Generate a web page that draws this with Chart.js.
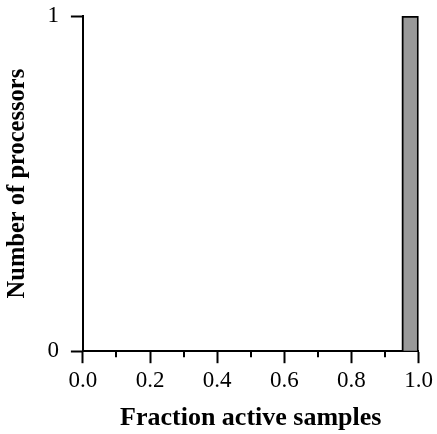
<!DOCTYPE html>
<html>
<head>
<meta charset="utf-8">
<script src="https://cdn.jsdelivr.net/npm/chart.js@4"></script>
<style>
  html, body { margin: 0; padding: 0; background: #fff; }
  #wrap { width: 437px; height: 434px; }
</style>
</head>
<body>
<div id="wrap"><canvas id="histChart"></canvas></div>
<script>
// histogram bins (centres) and counts
const binCenters = [0.025, 0.075, 0.125, 0.175, 0.225, 0.275, 0.325, 0.375, 0.425, 0.475,
                    0.525, 0.575, 0.625, 0.675, 0.725, 0.775, 0.825, 0.875, 0.925, 0.975];
const counts = [0, 0, 0, 0, 0, 0, 0, 0, 0, 0,
                0, 0, 0, 0, 0, 0, 0, 0, 0, 1];
const xTitle = "Fraction active samples";
const yTitle = "Number of processors";

const serif = "'Liberation Serif', 'Times New Roman', serif";

function isMajor(v) {
  return Math.round(v * 10) % 2 === 0;
}

// short minor ticks at the unlabelled x positions
const minorTicks = {
  id: "minorTicks",
  afterDraw(chart) {
    const sx = chart.scales.x;
    const ctx = chart.ctx;
    const y0 = chart.chartArea.bottom;
    ctx.save();
    ctx.strokeStyle = "#000";
    ctx.lineWidth = 2;
    sx.ticks.forEach(t => {
      if (!isMajor(t.value)) {
        const px = Math.round(sx.getPixelForValue(t.value));
        ctx.beginPath();
        ctx.moveTo(px, y0);
        ctx.lineTo(px, y0 + 6);
        ctx.stroke();
      }
    });
    ctx.restore();
  }
};

const ctx = document.getElementById("histChart").getContext("2d");
new Chart(ctx, {
  type: "bar",
  data: {
    datasets: [{
      data: binCenters.map((x, i) => ({ x: x, y: counts[i] })),
      backgroundColor: "#999999",
      borderColor: "#000000",
      borderWidth: 2,
      barPercentage: 1.0,
      categoryPercentage: 1.0
    }]
  },
  options: {
    responsive: true,
    maintainAspectRatio: false,
    animation: false,
    layout: { padding: { left: 0, right: 4, top: 0, bottom: 0 } },
    plugins: {
      legend: { display: false },
      tooltip: { enabled: false }
    },
    scales: {
      x: {
        type: "linear",
        min: 0,
        max: 1,
        offset: false,
        border: { color: "#000", width: 2 },
        grid: {
          offset: false,
          drawOnChartArea: false,
          tickLength: 12,
          tickWidth: 2,
          tickColor: c => (c.tick && !isMajor(c.tick.value) ? "rgba(0,0,0,0)" : "#000")
        },
        ticks: {
          stepSize: 0.1,
          autoSkip: false,
          maxRotation: 0,
          padding: 4,
          color: "#000",
          font: { family: serif, size: 23 },
          callback: v => (isMajor(v) ? v.toFixed(1) : "")
        },
        title: {
          display: true,
          text: xTitle,
          color: "#000",
          font: { family: serif, size: 26, weight: "bold" },
          padding: { top: 4, bottom: 0 }
        }
      },
      y: {
        min: 0,
        max: 1,
        border: { color: "#000", width: 2 },
        grid: {
          offset: false,
          drawOnChartArea: false,
          tickLength: 12,
          tickWidth: 2,
          tickColor: "#000"
        },
        ticks: {
          stepSize: 1,
          padding: 12,
          color: "#000",
          font: { family: serif, size: 23, lineHeight: 0.35 }
        },
        title: {
          display: true,
          text: yTitle,
          color: "#000",
          font: { family: serif, size: 24.5, weight: "bold" },
          padding: { top: 3, bottom: 3 }
        }
      }
    }
  },
  plugins: [minorTicks]
});
</script>
</body>
</html>
